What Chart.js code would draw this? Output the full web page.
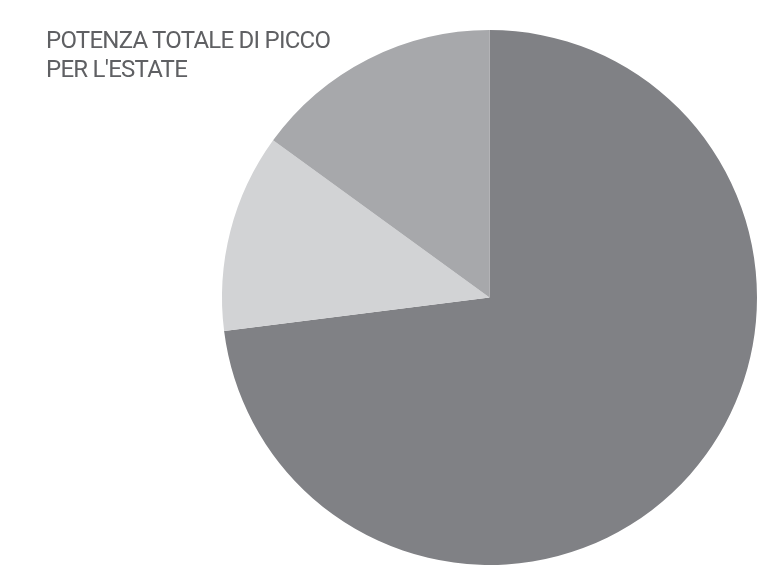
<!DOCTYPE html>
<html>
<head>
<meta charset="utf-8">
<script src="https://cdn.jsdelivr.net/npm/chart.js@4/dist/chart.umd.min.js"></script>
<style>
  html, body { margin: 0; padding: 0; background: #ffffff; }
  #wrap { position: relative; width: 773px; height: 582px; }
  #title {
    position: absolute; left: 46px; top: 26px;
    font-family: Roboto, "Liberation Sans", sans-serif;
    font-size: 24px; line-height: 29px; letter-spacing: -0.75px;
    color: #5f6063; z-index: 2;
  }
  canvas { position: absolute; left: 0; top: 0; }
</style>
</head>
<body>
<div id="wrap">
  <div id="title">POTENZA TOTALE DI PICCO<br>PER L'ESTATE</div>
  <canvas id="c" width="773" height="582"></canvas>
</div>
<script>
// Share of summer peak power by source (percent)
const categories = ["A", "B", "C"];
const shares = [73, 12, 15];
const sliceColors = ["#808185", "#d2d3d5", "#a7a8ab"];

new Chart(document.getElementById("c"), {
  type: "pie",
  data: {
    labels: categories,
    datasets: [{
      data: shares,
      backgroundColor: sliceColors,
      borderWidth: 0
    }]
  },
  options: {
    responsive: false,
    animation: false,
    layout: { padding: { top: 30, bottom: 17, left: 222, right: 16 } },
    plugins: {
      legend: { display: false },
      tooltip: { enabled: false },
      title: { display: false }
    }
  }
});
</script>
</body>
</html>
